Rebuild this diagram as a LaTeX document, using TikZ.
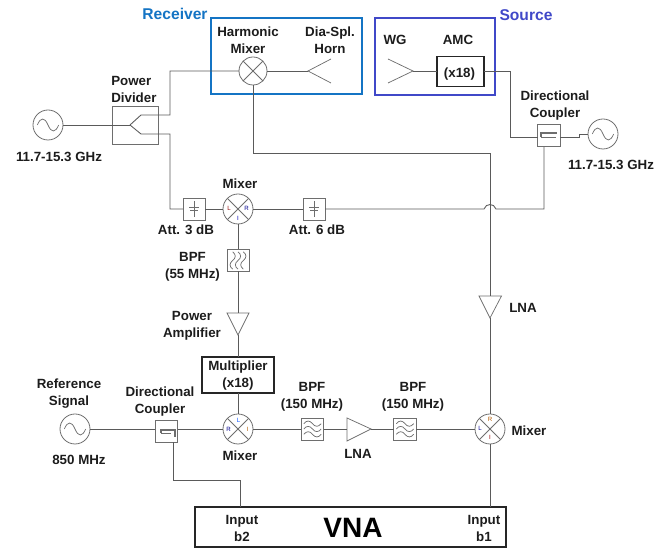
\documentclass[tikz,border=0pt]{standalone}
\usepackage{fontspec}
\setmainfont{Liberation Sans}
\definecolor{wire}{HTML}{5A5A5A}
\definecolor{sym}{HTML}{6E6E6E}
\definecolor{ink}{HTML}{1C1C1C}
\definecolor{recv}{HTML}{1474C4}
\definecolor{srcb}{HTML}{4048C8}
\tikzset{
  wirel/.style={draw=wire,line width=0.65pt},
  symb/.style={draw=sym,line width=0.55pt},
  txt/.style={text=ink,font=\fontsize{10}{10}\selectfont\bfseries,inner sep=0pt,align=center},
  tag/.style={inner sep=0pt,font=\fontsize{4.6}{5}\selectfont},
  mix/.style={circle,draw=sym,line width=0.6pt,minimum size=#1*0.75pt*2,inner sep=0pt,outer sep=0pt},
  osc/.style={circle,draw=sym,line width=0.6pt,minimum size=22.5pt,inner sep=0pt,outer sep=0pt},
  sbox/.style={rectangle,draw=sym,line width=0.7pt,minimum width=16.5pt,minimum height=16.5pt,inner sep=0pt,outer sep=0pt},
  heavy/.style={rectangle,draw=black!85,line width=1.4pt,inner sep=0pt,outer sep=0pt}
}
\newcommand{\mixcross}[1]{%
  \draw[symb] (#1.45)--(#1.225) (#1.135)--(#1.315);}
\newcommand{\oscwave}[1]{%
  \draw[symb] ([xshift=-8pt]#1.center) .. controls +(2.5pt,6pt) and +(-2.5pt,6pt) .. (#1.center)
     .. controls +(2.5pt,-6pt) and +(-2.5pt,-6pt) .. ([xshift=8pt]#1.center);}
\newcommand{\attsym}[1]{%
  \draw[symb] ([yshift=-6pt]#1.center)--([yshift=6pt]#1.center)
    ([xshift=-3.5pt,yshift=1pt]#1.center)--([xshift=3.5pt,yshift=1pt]#1.center)
    ([xshift=-3pt,yshift=-1pt]#1.center)--([xshift=3pt,yshift=-1pt]#1.center);}
\newcommand{\wavesH}[1]{%
  \foreach \d in {-4,0,4}{%
   \draw[symb] ([xshift=-6.5pt,yshift=\d pt]#1.center) .. controls +(2pt,2.6pt) and +(-2pt,2.6pt) .. ([yshift=\d pt]#1.center)
     .. controls +(2pt,-2.6pt) and +(-2pt,-2.6pt) .. ([xshift=6.5pt,yshift=\d pt]#1.center);}}
\newcommand{\wavesV}[1]{%
  \foreach \d in {-4,0,4}{%
   \draw[symb] ([xshift=\d pt,yshift=6.5pt]#1.center) .. controls +(2.6pt,-2pt) and +(2.6pt,2pt) .. ([xshift=\d pt]#1.center)
     .. controls +(-2.6pt,-2pt) and +(-2.6pt,2pt) .. ([xshift=\d pt,yshift=-6.5pt]#1.center);}}
\begin{document}
\begin{tikzpicture}[x=0.75pt,y=-0.75pt]
\useasboundingbox (0,0) rectangle (669,548);

% group boxes
\node[draw=recv,line width=1.5pt,minimum width=113pt,minimum height=57pt,inner sep=0pt,outer sep=0pt] (rxbox) at (286.5,56) {};
\node[draw=srcb,line width=1.5pt,minimum width=90pt,minimum height=57.5pt,inner sep=0pt,outer sep=0pt] (srcbox) at (435,56.5) {};
\node[font=\fontsize{11.7}{12}\selectfont\bfseries,text=recv,inner sep=0pt] (rxlab) at (175,14) {Receiver};
\node[font=\fontsize{11.7}{12}\selectfont\bfseries,text=srcb,inner sep=0pt] (srclab) at (526,15) {Source};

% mixers
\node[mix=14] (hm) at (253,71) {};
\node[mix=15] (m1) at (238,209) {};
\node[mix=15] (m3) at (238,429) {};
\node[mix=15] (m4) at (490,429) {};
\mixcross{hm}\mixcross{m1}\mixcross{m3}\mixcross{m4}
\node[tag,text=red!55!black] (m1l) at (229,208) {L};
\node[tag,text=blue!55!black] (m1r) at (246.5,208.5) {R};
\node[tag,text=blue!70!black] (m1i) at (238,218) {I};
\node[tag,text=blue!70!cyan] (m3l) at (238.5,420.5) {L};
\node[tag,text=blue!55!black] (m3r) at (228.5,429) {R};
\node[tag,text=orange!70!black] (m3i) at (247.5,429.5) {I};
\node[tag,text=orange!70!black] (m4r) at (490,419.5) {R};
\node[tag,text=blue!60!black] (m4l) at (480,428.5) {L};
\node[tag,text=red!60!black] (m4i) at (490,437.5) {I};

% oscillators
\node[osc] (o1) at (48,125) {};
\node[osc] (o2) at (603,134) {};
\node[osc] (o3) at (75,429) {};
\oscwave{o1}\oscwave{o2}\oscwave{o3}

% power divider
\node[sbox,minimum width=34pt,minimum height=28.5pt] (pd) at (135.5,125) {};
\coordinate (pdtip) at (130,125);
\coordinate (pdu) at (141,115);
\coordinate (pdd) at (141,134);

% attenuators
\node[sbox] (a1) at (194,209) {};
\node[sbox] (a2) at (314,209) {};
\attsym{a1}\attsym{a2}

% filters
\node[sbox] (f55) at (238,260.5) {};
\node[sbox,minimum width=17pt] (f1) at (312.5,429) {};
\node[sbox,minimum width=17pt] (f2) at (405,429) {};
\wavesV{f55}\wavesH{f1}\wavesH{f2}

% couplers
\node[sbox,minimum width=17pt] (c2) at (549,135.5) {};
\node[sbox,minimum width=17pt] (c1) at (166.5,431) {};
\draw[symb,line width=0.8pt] (541,137)--(541,133)--(557,133);
\draw[symb] (541,137)--(556,137);
\draw[symb,line width=0.8pt] (161,433)--(161,430)--(175,430)--(175,437);
\draw[symb] (161,433)--(171,433);
\coordinate (c2b) at (544,147);
\coordinate (c1b) at (173,442.25);

% amplifiers
\coordinate (pat) at (238,313);
\coordinate (paa) at (238,335);
\draw[symb] (227,313)--(249,313)--(paa)--cycle;
\coordinate (lna1t) at (490,296);
\coordinate (lna1a) at (490,318);
\draw[symb] (479,296)--(501.5,296)--(lna1a)--cycle;
\coordinate (lna2l) at (347,429);
\coordinate (lna2a) at (371,429);
\draw[symb] (347,418)--(347,441)--(lna2a)--cycle;

% horns
\coordinate (h1) at (308,71);
\coordinate (h2) at (413,71);
\draw[symb] (331,59)--(h1)--(331,83);
\draw[symb] (388,59)--(h2)--(388,83);

% heavy boxes
\node[heavy,minimum width=35pt,minimum height=22.5pt] (amc) at (460.5,71.5) {};
\node[heavy,minimum width=54pt,minimum height=27pt] (mult) at (238,375) {};
\node[heavy,minimum width=233.25pt,minimum height=30pt] (vna) at (350.5,527) {};

% connectors
\draw[wirel] (o1.east)--(pdtip);
\draw[wirel] (pdtip)--(pdu)--(170,115)--(170,71)--(hm.west);
\draw[wirel] (pdtip)--(pdd)--(170,134)--(170,209)--(a1.west);
\draw[wirel] (a1.east)--(m1.west);
\draw[wirel] (m1.east)--(a2.west);
\draw[wirel] (hm.east)--(h1);
\draw[wirel] (hm.south)--(253,153)--(490,153)--(lna1t);
\draw[wirel] (lna1a)--(m4.north);
\draw[wirel] (m4.south)--(m4.south|-vna.north);
\draw[wirel] (h2)--(h2-|amc.west);
\draw[wirel] (amc.east|-h2)--(510,71)--(510,137)--(c2.west|-0,137);
\draw[wirel] (c2.east|-0,137)--(579,137)--(579,134)--(o2.west);
\draw[wirel] (c2b)--(544,209)--(496,209) .. controls (494,203) and (486,203) .. (484,209)--(a2.east);
\draw[wirel] (m1.south)--(f55.north);
\draw[wirel] (f55.south)--(pat);
\draw[wirel] (paa)--(mult.north);
\draw[wirel] (mult.south)--(m3.north);
\draw[wirel] (o3.east)--(c1.west|-0,429);
\draw[wirel] (c1.east|-0,429)--(m3.west);
\draw[wirel] (m3.east)--(f1.west);
\draw[wirel] (f1.east)--(lna2l);
\draw[wirel] (lna2a)--(f2.west);
\draw[wirel] (f2.east)--(m4.west);
\draw[wirel] (c1b)--(173,480)--(240,480)--(240,507);

% labels
\node[txt] (t1) at (248,40.5) {Harmonic\\[3pt]Mixer};
\node[txt] (t2) at (330,40.5) {Dia-Spl.\\[3pt]Horn};
\node[txt] (t3) at (395,40) {WG};
\node[txt] (t4) at (458,40) {AMC};
\node[txt] (t5) at (459.5,74) {(x18)};
\node[txt,align=left,anchor=west] (t6) at (111,89.5) {Power\\[3pt]Divider};
\node[txt] (t7) at (59,157) {11.7-15.3 GHz};
\node[txt] (t8) at (240,184) {Mixer};
\node[txt] (t9) at (186,230) {Att. 3 dB};
\node[txt] (t10) at (317,230) {Att. 6 dB};
\node[txt] (t11) at (192.5,266.5) {BPF\\[3pt](55 MHz)};
\node[txt] (t12) at (192,326) {Power\\[3pt]Amplifier};
\node[txt] (t13) at (238,375.5) {Multiplier\\[3pt](x18)};
\node[txt] (t14) at (69,393.5) {Reference\\[3pt]Signal};
\node[txt] (t15) at (79,460) {850 MHz};
\node[txt] (t16) at (160,401.5) {Directional\\[3pt]Coupler};
\node[txt] (t17) at (240,456) {Mixer};
\node[txt] (t18) at (312,396.5) {BPF\\[3pt](150 MHz)};
\node[txt] (t19) at (413,396.5) {BPF\\[3pt](150 MHz)};
\node[txt] (t20) at (358,454) {LNA};
\node[txt] (t21) at (529,431) {Mixer};
\node[txt] (t22) at (523,308) {LNA};
\node[txt] (t23) at (555,105.5) {Directional\\[3pt]Coupler};
\node[txt] (t24) at (611,165) {11.7-15.3 GHz};
\node[txt] (t25) at (242,528.5) {Input\\[3pt]b2};
\node[txt] (t26) at (484,528.5) {Input\\[3pt]b1};
\node[text=black,font=\fontsize{21}{21}\selectfont\bfseries,inner sep=0pt] (t27) at (353,528) {VNA};
\end{tikzpicture}
\end{document}
